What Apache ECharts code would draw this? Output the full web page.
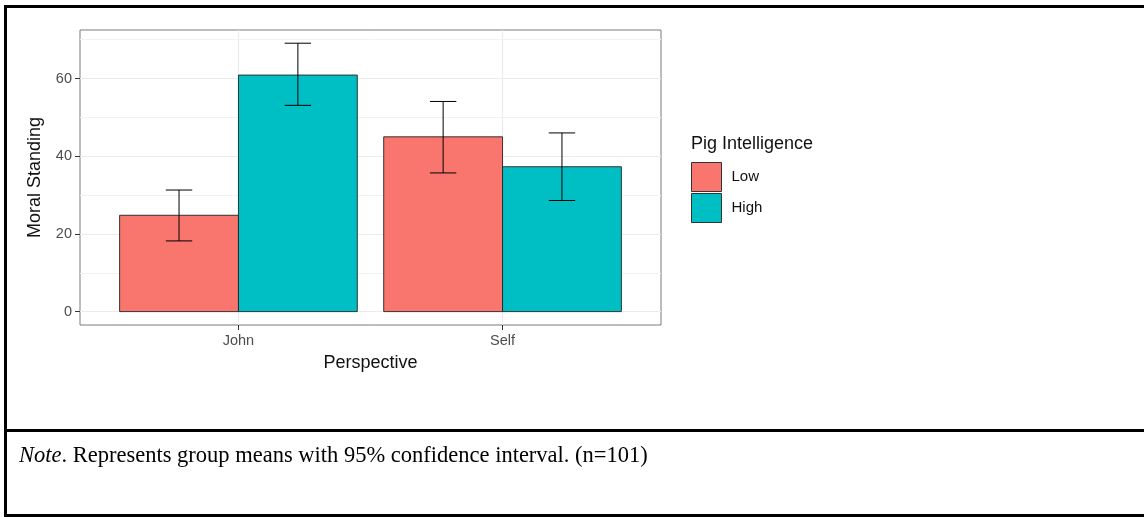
<!DOCTYPE html>
<html>
<head>
<meta charset="utf-8">
<script src="https://cdn.jsdelivr.net/npm/echarts@6/dist/echarts.min.js"></script>
<style>
html,body{margin:0;padding:0;background:#fff;}
#chart{width:1144px;height:517px;}
</style>
</head>
<body>
<div id="chart"></div>
<script>
// ---- data ----
const categories = ['John', 'Self'];
const groups = ['Low', 'High'];
const lowMeans = [24.8, 45.0];
const lowLower = [18.2, 35.7];
const lowUpper = [31.3, 54.1];
const highMeans = [60.9, 37.3];
const highLower = [53.1, 28.6];
const highUpper = [69.1, 46.0];
const yMajorTicks = [0, 20, 40, 60];
const yMinorTicks = [10, 30, 50, 70];
const xTickValues = [1, 2];
const noteText = '. Represents group means with 95% confidence interval. (n=101)';

// ---- style ----
const colors = ['#F8766D', '#00BFC4'];
const FONT = '"Liberation Sans", Arial, sans-serif';
const SERIF = '"Liberation Serif", "Times New Roman", serif';
const dodgeWidth = 0.9;
const barW = dodgeWidth / 2;
const capW = 0.1;

function toData(means, lo, hi) {
  return categories.map((c, i) => [i + 1, means[i], lo[i], hi[i]]);
}
const seriesData = [toData(lowMeans, lowLower, lowUpper), toData(highMeans, highLower, highUpper)];

function barSeries(gi) {
  const offset = (gi - 0.5) * barW;
  return {
    type: 'custom',
    name: groups[gi],
    data: seriesData[gi],
    itemStyle: { color: colors[gi], borderColor: '#222', borderWidth: 0.8 },
    encode: { x: 0, y: 1 },
    renderItem: function (params, api) {
      const x = api.value(0) + offset;
      const p0 = api.coord([x - barW / 2, api.value(1)]);
      const p1 = api.coord([x + barW / 2, 0]);
      return {
        type: 'rect',
        shape: { x: p0[0], y: p0[1], width: p1[0] - p0[0], height: p1[1] - p0[1] },
        style: { fill: colors[gi], stroke: '#222', lineWidth: 0.9 }
      };
    },
    z: 2
  };
}
function errSeries(gi) {
  const offset = (gi - 0.5) * barW;
  return {
    type: 'custom',
    name: groups[gi] + ' CI',
    data: seriesData[gi],
    encode: { x: 0, y: [2, 3] },
    renderItem: function (params, api) {
      const x = api.value(0) + offset;
      const top = api.coord([x, api.value(3)]);
      const bot = api.coord([x, api.value(2)]);
      const tl = api.coord([x - capW / 2, api.value(3)]);
      const tr = api.coord([x + capW / 2, api.value(3)]);
      const bl = api.coord([x - capW / 2, api.value(2)]);
      const br = api.coord([x + capW / 2, api.value(2)]);
      const st = { stroke: '#000', lineWidth: 1 };
      return {
        type: 'group',
        children: [
          { type: 'line', shape: { x1: top[0], y1: top[1], x2: bot[0], y2: bot[1] }, style: st },
          { type: 'line', shape: { x1: tl[0], y1: tl[1], x2: tr[0], y2: tr[1] }, style: st },
          { type: 'line', shape: { x1: bl[0], y1: bl[1], x2: br[0], y2: br[1] }, style: st }
        ]
      };
    },
    z: 3
  };
}

const chart = echarts.init(document.getElementById('chart'), null, { renderer: 'canvas' });
const yMin = -3.45, yMax = 72.5;
chart.setOption({
  animation: false,
  backgroundColor: '#fff',
  grid: {
    left: 80, top: 30, width: 581, height: 295,
    show: true, borderColor: '#7a7a7a', borderWidth: 1, backgroundColor: 'transparent'
  },
  legend: {
    data: groups,
    orient: 'vertical',
    left: 691, top: 162,
    padding: 0,
    itemWidth: 30, itemHeight: 29, itemGap: 1,
    icon: 'rect',
    itemStyle: { borderColor: '#333', borderWidth: 1 },
    textStyle: { fontFamily: FONT, fontSize: 15, color: '#111', padding: [0, 0, 0, 5] },
    selectedMode: false
  },
  xAxis: {
    type: 'value', min: 0.4, max: 2.6,
    axisLine: { show: false, onZero: false },
    axisTick: { show: true, length: 5, customValues: xTickValues, lineStyle: { color: '#333' } },
    axisLabel: {
      customValues: xTickValues,
      formatter: v => categories[Math.round(v) - 1],
      color: '#4D4D4D', fontFamily: FONT, fontSize: 14.5, margin: 8
    },
    splitLine: { show: true, lineStyle: { color: '#EBEBEB', width: 1.2 } },
    name: 'Perspective', nameLocation: 'middle', nameGap: 29,
    nameTextStyle: { fontFamily: FONT, fontSize: 18, color: '#111' }
  },
  yAxis: [{
    type: 'value', min: yMin, max: yMax, position: 'left',
    axisLine: { show: false, onZero: false },
    axisTick: { show: true, length: 5, customValues: yMajorTicks, lineStyle: { color: '#333' } },
    axisLabel: { customValues: yMajorTicks, color: '#4D4D4D', fontFamily: FONT, fontSize: 14.5, margin: 8 },
    splitLine: { show: true, lineStyle: { color: '#EBEBEB', width: 1.2 } },
    name: 'Moral Standing', nameLocation: 'middle', nameGap: 36,
    nameTextStyle: { fontFamily: FONT, fontSize: 18, color: '#111' }
  }, {
    type: 'value', min: yMin, max: yMax, position: 'left', offset: 0,
    axisLine: { show: false, onZero: false },
    axisTick: { show: false, customValues: yMinorTicks },
    axisLabel: { show: false, customValues: yMinorTicks },
    splitLine: { show: true, lineStyle: { color: '#F2F2F2', width: 1 } }
  }],
  graphic: [
    { type: 'rect', shape: { x: 4, y: 5, width: 1140, height: 3 }, style: { fill: '#000' } },
    { type: 'rect', shape: { x: 4, y: 5, width: 3, height: 512 }, style: { fill: '#000' } },
    { type: 'rect', shape: { x: 4, y: 429, width: 1140, height: 3 }, style: { fill: '#000' } },
    { type: 'rect', shape: { x: 4, y: 514, width: 1140, height: 3 }, style: { fill: '#000' } },
    {
      type: 'text', x: 691, y: 144,
      style: { text: 'Pig Intelligence', fontFamily: FONT, fontSize: 18, fill: '#111', verticalAlign: 'middle' }
    },
    {
      type: 'text', x: 19, y: 456,
      style: {
        text: '{i|Note}' + noteText,
        fontFamily: SERIF, fontSize: 22.5, fill: '#000',
        verticalAlign: 'middle',
        rich: { i: { fontStyle: 'italic', fontFamily: SERIF, fontSize: 22.5, fill: '#000' } }
      }
    }
  ],
  series: [barSeries(0), barSeries(1), errSeries(0), errSeries(1)]
});
</script>
</body>
</html>
